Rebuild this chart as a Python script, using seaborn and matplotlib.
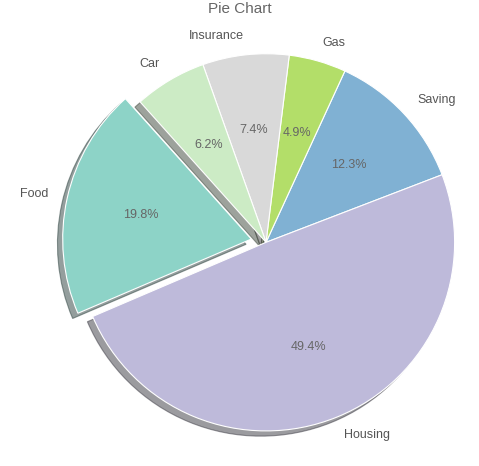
import matplotlib
matplotlib.use('Agg')
import matplotlib.pyplot as plt
import seaborn as sns

labels = ['Saving', 'Gas', 'Insurance', 'Car', 'Food', 'Housing']
shares = [12.3, 4.9, 7.4, 6.2, 19.8, 49.4]
colors = ['#80b1d3', '#b3de69', '#d9d9d9', '#ccebc5', '#8dd3c7', '#bebada']
explode = [0, 0, 0, 0, 0.08, 0]

sns.set_theme(style='white')
plt.rcParams['font.family'] = ['Liberation Sans', 'DejaVu Sans']

fig = plt.figure(figsize=(4.79, 4.66), dpi=100)
ax = fig.add_axes([0.09, 0.04, 0.9, 0.88])
wedges, texts, autotexts = ax.pie(
    shares, labels=labels, colors=colors, explode=explode,
    autopct='%1.1f%%', startangle=21, shadow=True,
    wedgeprops={'edgecolor': 'white', 'linewidth': 0.8},
    textprops={'color': '#555555', 'fontsize': 9})
for t in autotexts:
    t.set_color('#666666')
ax.axis('equal')
fig.suptitle('Pie Chart', color='#666666', fontsize=11, y=0.995)
plt.savefig('out.png')
plt.close()
